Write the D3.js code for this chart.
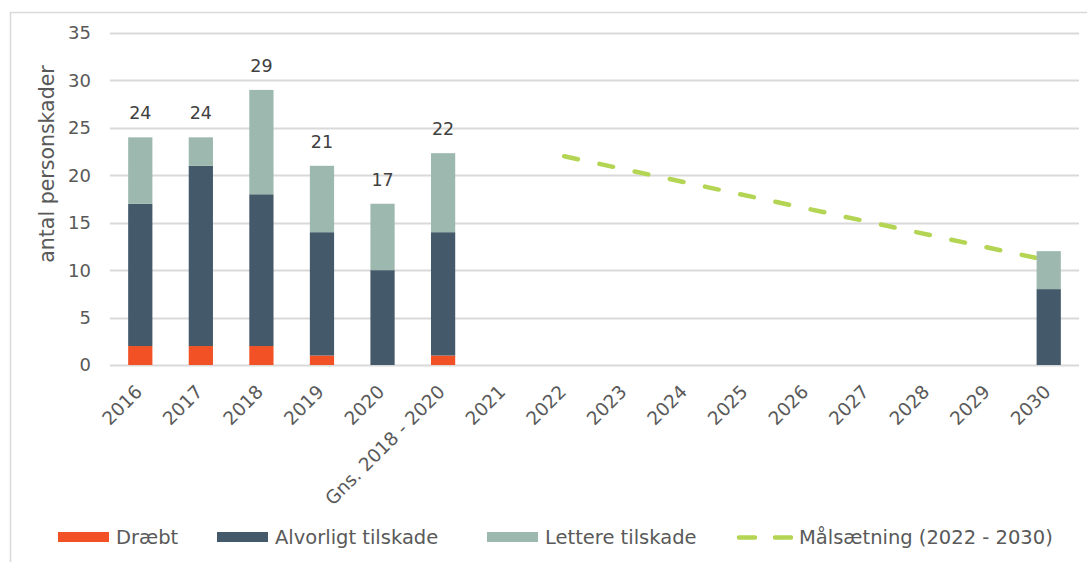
<!DOCTYPE html>
<html>
<head>
<meta charset="utf-8">
<script src="https://cdn.jsdelivr.net/npm/d3@7"></script>
<style>
  body { margin: 0; background: #fff; }
  svg text { font-family: "DejaVu Sans", Verdana, sans-serif; }
</style>
</head>
<body>
<div id="chart"></div>
<script>
// Data
const categories = ["2016", "2017", "2018", "2019", "2020", "Gns. 2018 - 2020",
  "2021", "2022", "2023", "2024", "2025", "2026", "2027", "2028", "2029", "2030"]
const draebt     = [2, 2, 2, 1, 0, 1,       null, null, null, null, null, null, null, null, null, 0]
const alvorligt  = [15, 19, 16, 13, 10, 13, null, null, null, null, null, null, null, null, null, 8]
const lettere    = [7, 3, 11, 7, 7, 8.33,   null, null, null, null, null, null, null, null, null, 4]
const totalLabels = ["24", "24", "29", "21", "17", "22"]
const goalYears  = ["2022", "2030"]
const goalValues = [22, 11]
const yTicks = [0, 5, 10, 15, 20, 25, 30, 35]

const seriesNames = ["Dræbt", "Alvorligt tilskade", "Lettere tilskade"]
const colors = ["#F15124", "#44596A", "#9DB8AE"]
const goalColor = "#B3D553"
const goalName = "Målsætning (2022 - 2030)"

// Canvas
const width = 1087, height = 562
const svg = d3.select("#chart").append("svg")
  .attr("width", width).attr("height", height)

// Outer frame
svg.append("rect")
  .attr("x", 10.5).attr("y", 12.5)
  .attr("width", 1200).attr("height", 700)
  .style("fill", "none").style("stroke", "#D9D9D9").style("stroke-width", 1.5)

const plot = { left: 110, right: 1079, top: 33, bottom: 365 }

const x = d3.scaleBand().domain(categories).range([plot.left, plot.right]).paddingInner(0.6).paddingOuter(0.3)
const y = d3.scaleLinear().domain([0, 35]).range([plot.bottom, plot.top])

// Gridlines
svg.append("g").selectAll("line").data(yTicks).enter().append("line")
  .attr("x1", plot.left).attr("x2", plot.right)
  .attr("y1", d => Math.round(y(d)) + 0.5).attr("y2", d => Math.round(y(d)) + 0.5)
  .style("stroke", "#D9D9D9").style("stroke-width", 2)

// Y tick labels
svg.append("g").selectAll("text").data(yTicks).enter().append("text")
  .attr("x", 91).attr("y", d => y(d)).attr("dy", "0.36em")
  .attr("text-anchor", "end")
  .style("font-size", "18px").style("fill", "#595959")
  .text(d => d)

// Y axis title
svg.append("text")
  .attr("transform", "translate(47,164) rotate(-90)")
  .attr("text-anchor", "middle").attr("dy", "0.35em")
  .style("font-size", "20.5px").style("fill", "#595959")
  .text("antal personskader")

// X labels
svg.append("g").selectAll("text").data(categories).enter().append("text")
  .attr("transform", d => `translate(${x(d) + x.bandwidth() / 2 + 3},${plot.bottom + 28}) rotate(-45)`)
  .attr("text-anchor", "end")
  .style("font-size", "18.5px").style("fill", "#595959")
  .text(d => d)

// Goal line (drawn beneath bars)
const goalData = goalYears.map((g, i) => ({ cat: g, v: goalValues[i] }))
svg.append("path")
  .datum(goalData)
  .attr("d", d3.line().x(d => x(d.cat) + x.bandwidth() / 2).y(d => y(d.v)))
  .style("fill", "none").style("stroke", goalColor)
  .style("stroke-width", 4.5).style("stroke-linecap", "round")
  .style("stroke-dasharray", "14,22")

// Stacked bars
const rows = categories.map((c, i) => ({ cat: c, s0: draebt[i] || 0, s1: alvorligt[i] || 0, s2: lettere[i] || 0 }))
const stack = d3.stack().keys(["s0", "s1", "s2"])(rows)

svg.append("g").selectAll("g").data(stack).enter().append("g")
  .style("fill", (d, i) => colors[i])
  .selectAll("rect").data(d => d.filter(p => p[1] - p[0] > 0)).enter().append("rect")
  .attr("x", d => x(d.data.cat))
  .attr("width", x.bandwidth())
  .attr("y", d => y(d[1]))
  .attr("height", d => y(d[0]) - y(d[1]))

// Total labels
svg.append("g").selectAll("text").data(totalLabels).enter().append("text")
  .attr("x", (d, i) => x(categories[i]) + x.bandwidth() / 2)
  .attr("y", (d, i) => y(draebt[i] + alvorligt[i] + lettere[i]) - 18)
  .attr("text-anchor", "middle")
  .style("font-size", "17.5px").style("fill", "#404040")
  .text(d => d)

// Legend
const legendY = 537
const legendX = [58, 217, 487]
seriesNames.forEach((name, i) => {
  svg.append("rect")
    .attr("x", legendX[i]).attr("y", legendY - 5)
    .attr("width", 51).attr("height", 10)
    .style("fill", colors[i])
  svg.append("text")
    .attr("x", legendX[i] + 58).attr("y", legendY).attr("dy", "0.36em")
    .style("font-size", "19.5px").style("fill", "#595959")
    .text(name)
})
svg.append("line")
  .attr("x1", 739).attr("x2", 791).attr("y1", legendY + 0.5).attr("y2", legendY + 0.5)
  .style("stroke", goalColor).style("stroke-width", 4.5)
  .style("stroke-linecap", "round").style("stroke-dasharray", "16,20")
svg.append("text")
  .attr("x", 799).attr("y", legendY).attr("dy", "0.36em")
  .style("font-size", "19.5px").style("fill", "#595959")
  .text(goalName)
</script>
</body>
</html>
